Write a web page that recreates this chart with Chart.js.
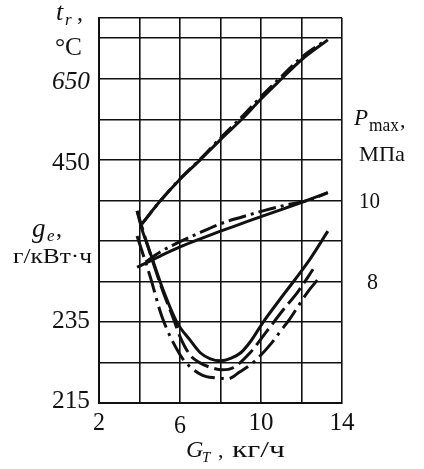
<!DOCTYPE html>
<html>
<head>
<meta charset="utf-8">
<script src="https://cdn.jsdelivr.net/npm/chart.js@4/dist/chart.umd.min.js"></script>
<style>
  html, body { margin: 0; padding: 0; background: #ffffff; }
  #wrap { width: 424px; height: 469px; }
</style>
</head>
<body>
<div id="wrap"><canvas id="c" width="424" height="469"></canvas></div>
<script>
// ---- Data ----
// x axis: fuel consumption G_T, kg/h
const xGrid = [2, 4, 6, 8, 10, 12, 14];
const xTickLabels = [2, 6, 10, 14];

// Exhaust temperature t_r, °C
const trX      = [4.12, 5.0, 6.0, 7.0, 8.0, 9.05, 10.0, 11.02, 12.0, 13.3];
const trSolid  = [292, 347, 402, 450, 500, 550, 600, 650, 697, 746];
const trDashX  = [4.12, 5.0, 6.0, 7.0, 8.0, 9.05, 10.0, 11.02, 12.0, 13.2];
const trDash   = [292, 347, 403, 452, 504, 556, 606, 656, 703, 745];

// Max cylinder pressure P_max, MPa
const pX       = [3.88, 5.0, 6.0, 7.0, 8.0, 9.0, 10.0, 11.0, 12.0, 13.3];
const pSolid   = [8.35, 8.62, 8.85, 9.05, 9.24, 9.42, 9.60, 9.77, 9.95, 10.19];
const pDashX   = [4.3, 5.0, 5.75, 6.84, 7.98, 9.06, 10.1, 11.2, 12.27, 13.3];
const pDash    = [8.48, 8.72, 8.92, 9.17, 9.42, 9.59, 9.74, 9.88, 9.99, 10.19];

// Specific fuel consumption g_e, g/kWh
const geSolidX = [3.88, 4.12, 4.52, 5.16, 5.85, 6.5, 7.0, 7.5, 8.0, 8.5, 9.0, 9.5, 10.1, 10.94, 11.7, 12.42, 13.3];
const geSolid  = [262.4, 257.9, 252.2, 243.0, 234.9, 230.5, 227.4, 225.9, 225.4, 226.0, 227.4, 230.3, 234.9, 240.6, 245.6, 250.5, 257.4];
const geDashX  = [3.88, 4.52, 5.16, 5.7, 6.0, 6.49, 6.99, 7.5, 8.07, 8.62, 9.46, 10.3, 11.1, 11.83, 12.57];
const geDash   = [262.4, 252.0, 242.5, 235.5, 231.4, 226.9, 224.9, 223.8, 223.2, 223.7, 227.4, 232.8, 238.0, 242.5, 248.0];
const geDotX   = [3.88, 4.52, 5.11, 6.0, 6.44, 7.09, 7.73, 8.37, 8.96, 9.6, 10.54, 10.94, 11.4, 12.32, 12.81];
const geDot    = [256.2, 246.3, 236.3, 226.9, 224.2, 221.9, 221.2, 221.0, 222.7, 224.9, 229.9, 232.6, 235.6, 242.5, 245.5];

// Tick labels of the three quantities
const trTickLabels = [650, 450];
const geTickLabels = [235, 215];
const pTickLabels  = [10, 8];

// ---- helpers ----
function pts(xs, ys) { return xs.map((x, i) => ({ x: x, y: ys[i] })); }
const INK = '#111111';
function ds(label, data, axis, dash) {
  return {
    label: label, data: data, yAxisID: axis,
    borderColor: INK, borderWidth: 3, borderDash: dash || [],
    pointRadius: 0, showLine: true, fill: false,
    cubicInterpolationMode: 'monotone', borderCapStyle: 'butt'
  };
}

const geGrid = [];
for (let v = 215; v <= 305; v += 10) geGrid.push(v);
geGrid.push(310);

const SERIF = '"Liberation Serif", "Times New Roman", serif';

const textPlugin = {
  id: 'texts',
  afterDraw(chart) {
    const ctx = chart.ctx;
    const xs = chart.scales.x, yG = chart.scales.y, yT = chart.scales.yT, yP = chart.scales.yP;
    const area = chart.chartArea;
    function txt(s, x, y, size, opt) {
      opt = opt || {};
      ctx.save();
      ctx.fillStyle = INK;
      ctx.font = (opt.italic ? 'italic ' : '') + size + 'px ' + SERIF;
      ctx.textBaseline = 'alphabetic';
      const w = ctx.measureText(s).width;
      let sx = 1;
      if (opt.w) sx = opt.w / w;
      let left = x;
      const align = opt.align || 'left';
      if (align === 'right') left = x - w * sx;
      else if (align === 'center') left = x - w * sx / 2;
      ctx.translate(left, y);
      ctx.scale(sx, 1);
      ctx.textAlign = 'left';
      ctx.fillText(s, 0, 0);
      ctx.restore();
    }
    // left numeric labels
    const lx = area.left - 9;
    trTickLabels.forEach(v => {
      txt(String(v), lx, yT.getPixelForValue(v) + 10, 25, { align: 'right', italic: v === 650, w: 38 });
    });
    geTickLabels.forEach(v => {
      const off = v === 215 ? 5 : 6;
      txt(String(v), lx, yG.getPixelForValue(v) + off, 25, { align: 'right', w: 38 });
    });
    // right numeric labels
    pTickLabels.forEach(v => {
      const s = String(v);
      txt(s, v === 8 ? 367 : 359, yP.getPixelForValue(v) + 8, 24, { w: s.length === 2 ? 21 : 11 });
    });
    // x labels
    xTickLabels.forEach(v => {
      txt(String(v), xs.getPixelForValue(v), area.bottom + (v === 6 ? 30 : 27), 25, { align: 'center', w: v >= 10 ? 25 : 12 });
    });
    // t_r , °C
    txt('t', 56, 20, 26, { italic: true });
    txt('r', 65, 25, 17, { italic: true });
    txt(',', 77, 20, 24);
    txt('°C', 55, 55, 25, { w: 27 });
    // g_e , г/кВт·ч
    txt('g', 32, 237, 27, { italic: true });
    txt('e', 47, 241, 17, { italic: true });
    txt(',', 56, 236, 24);
    txt('г/кВт·ч', 13, 263, 22, { w: 79 });
    // P_max , МПа
    txt('P', 354, 125, 23, { italic: true });
    txt('max', 369, 131, 18, { w: 30 });
    txt(',', 400, 127, 22);
    txt('МПа', 359, 161, 22, { w: 46 });
    // G_T , кг/ч
    txt('G', 186, 457, 24, { italic: true });
    txt('T', 202, 462, 15, { italic: true });
    txt(',', 218, 457, 22);
    txt('кг/ч', 232, 457, 23, { w: 53 });
  }
};

new Chart(document.getElementById('c'), {
  type: 'scatter',
  data: {
    datasets: [
      ds('t_r', pts(trX, trSolid), 'yT'),
      ds('t_r dash-dot', pts(trDashX, trDash), 'yT', [16, 5, 3, 5]),
      ds('P_max', pts(pX, pSolid), 'yP'),
      ds('P_max dash-dot', pts(pDashX, pDash), 'yP', [18, 5, 3, 5]),
      ds('g_e', pts(geSolidX, geSolid), 'y'),
      ds('g_e dashed', pts(geDashX, geDash), 'y', [20, 6]),
      ds('g_e dash-dot', pts(geDotX, geDot), 'y', [22, 6, 3, 6])
    ]
  },
  options: {
    responsive: false,
    animation: false,
    devicePixelRatio: 1,
    layout: { padding: { left: 99, right: 82, top: 18, bottom: 66 } },
    plugins: { legend: { display: false }, tooltip: { enabled: false } },
    scales: {
      x: {
        type: 'linear', min: 2, max: 14, position: 'bottom',
        afterBuildTicks: (s) => { s.ticks = xGrid.map(v => ({ value: v })); },
        ticks: { display: false },
        grid: { color: INK, lineWidth: 1.6, drawTicks: false },
        border: { display: true, color: INK, width: 2 }
      },
      y: {
        type: 'linear', min: 215, max: 310, position: 'left',
        afterBuildTicks: (s) => { s.ticks = geGrid.map(v => ({ value: v })); },
        ticks: { display: false },
        grid: { color: INK, lineWidth: 1.6, drawTicks: false },
        border: { display: true, color: INK, width: 2 }
      },
      yT: { type: 'linear', min: -150, max: 800, display: false },
      yP: { type: 'linear', min: 5, max: 14.5, display: false }
    }
  },
  plugins: [textPlugin]
});
</script>
</body>
</html>
